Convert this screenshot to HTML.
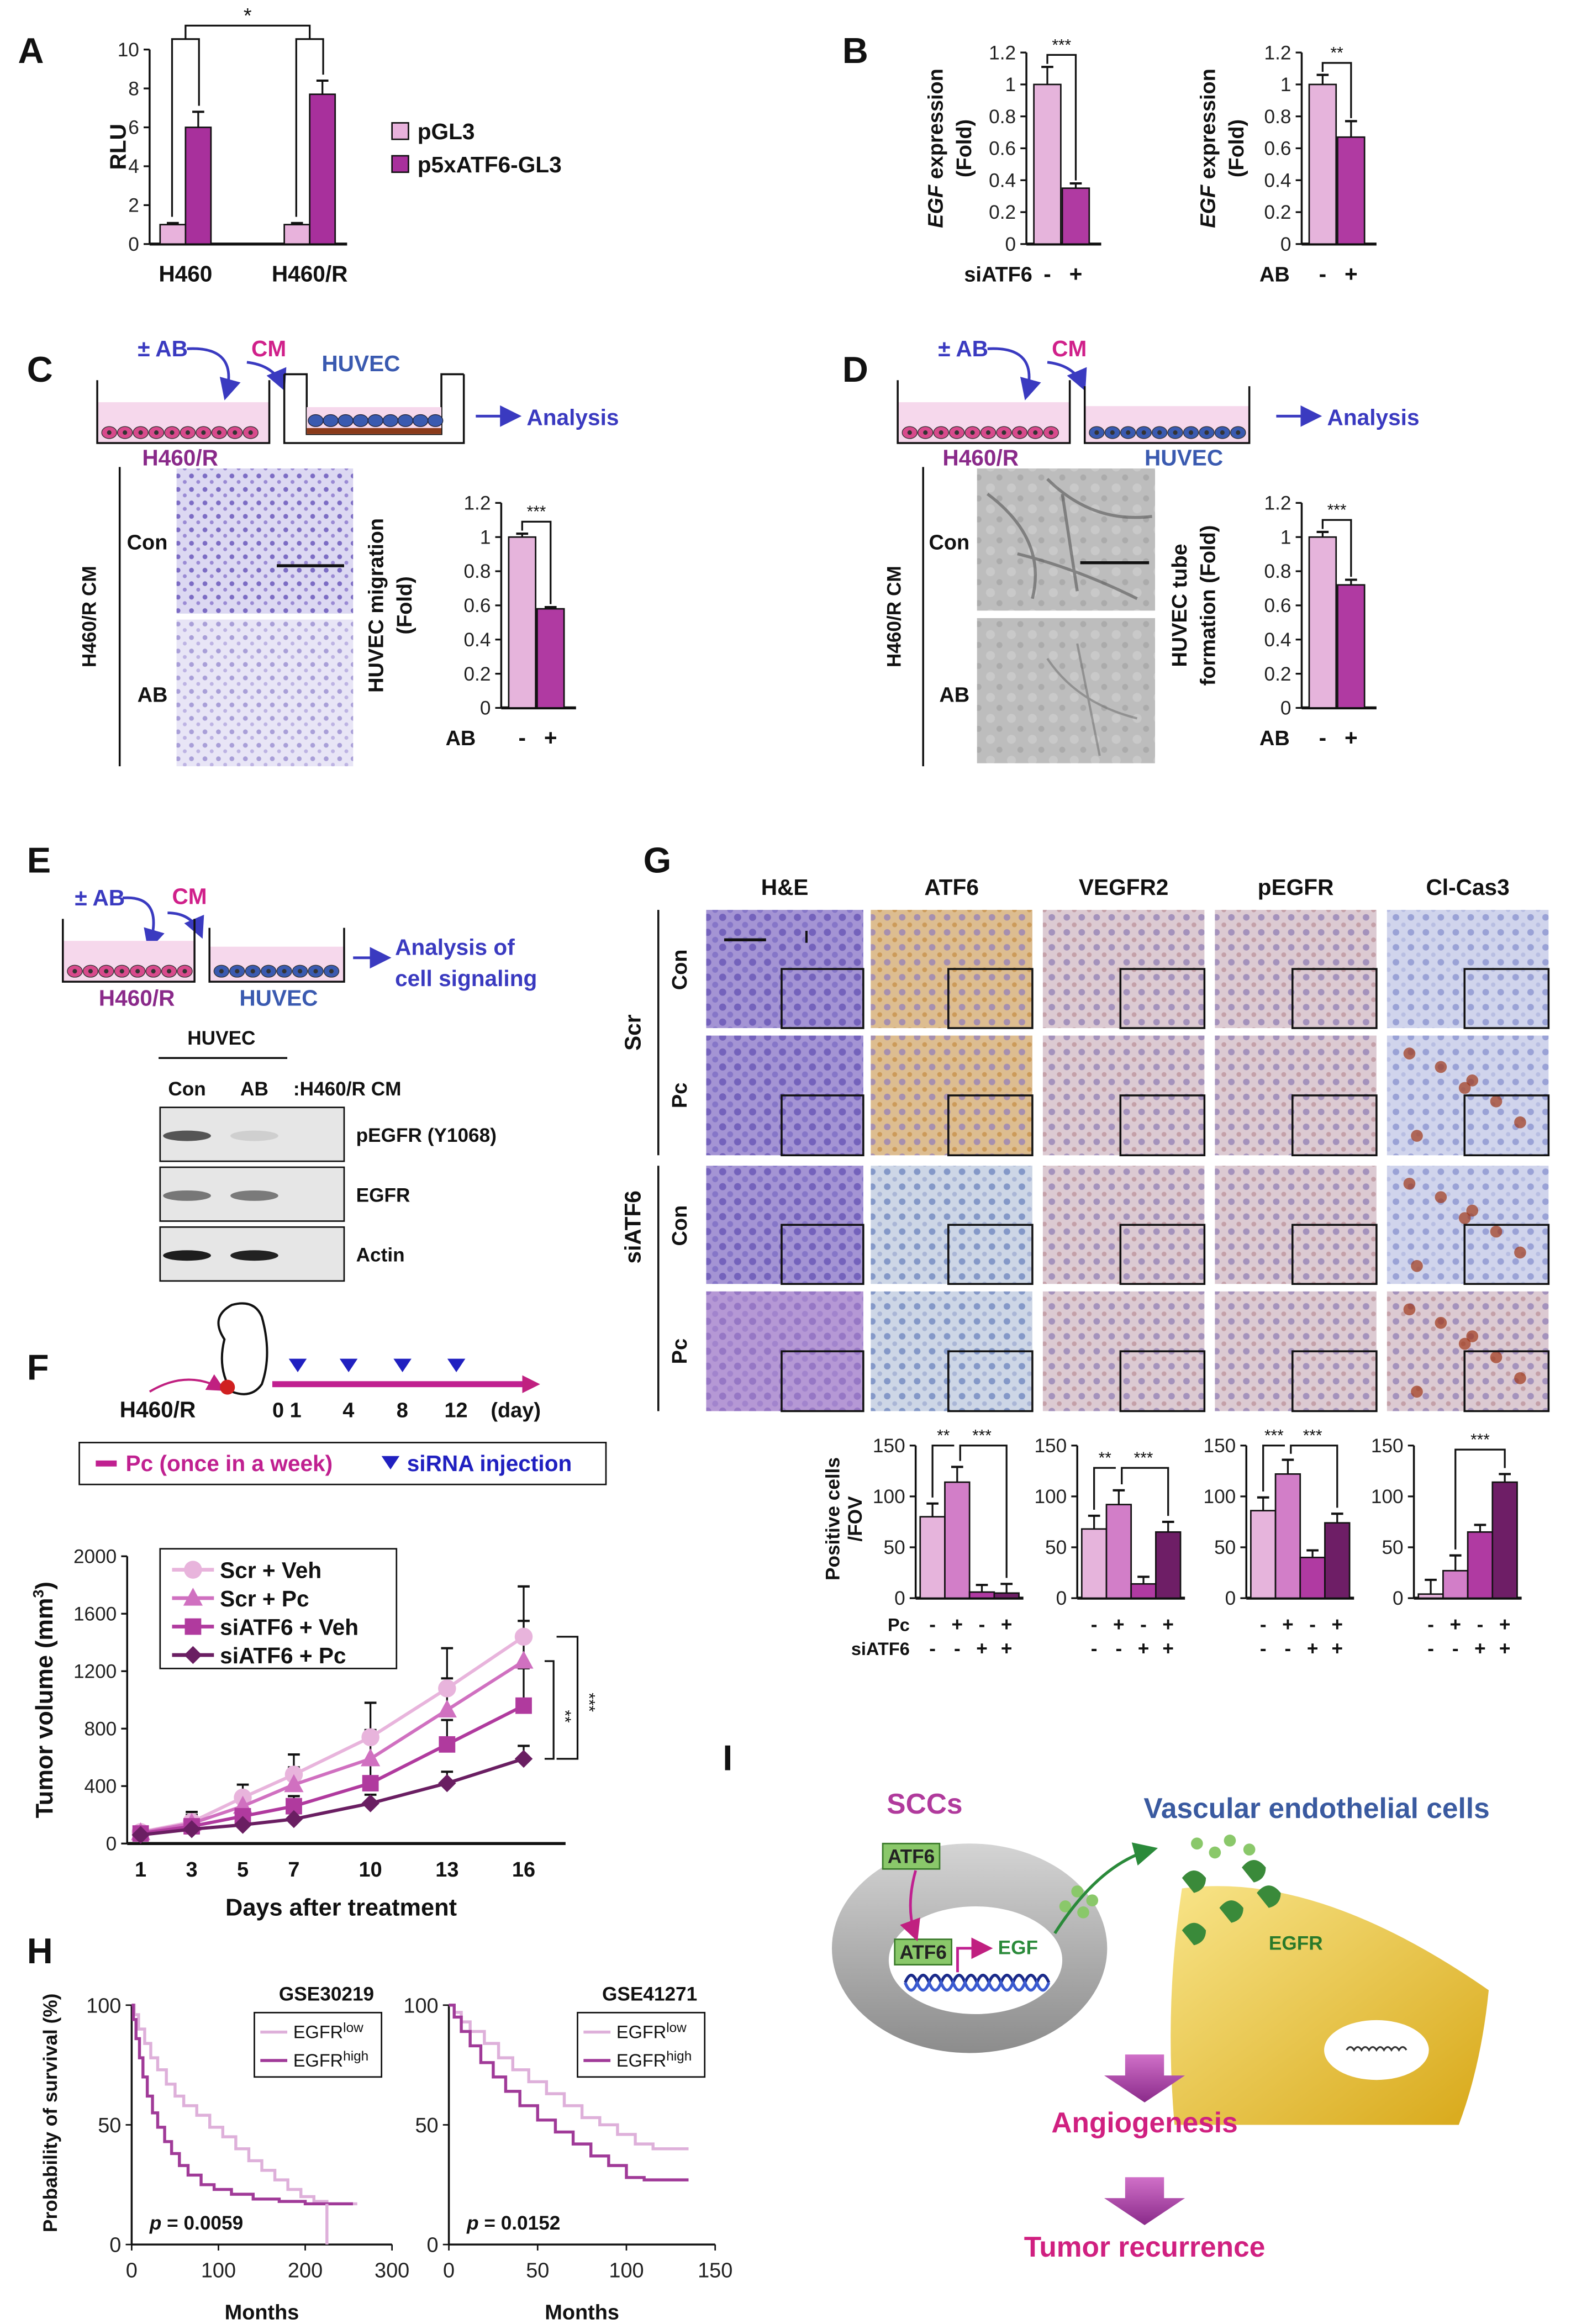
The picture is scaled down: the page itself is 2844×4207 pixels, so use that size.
<!DOCTYPE html>
<html><head><meta charset="utf-8"><style>
html,body{margin:0;padding:0;background:#fff}
svg{display:block}
text{font-family:"Liberation Sans",Arial,sans-serif}
.b{font-weight:bold}
</style></head><body>
<svg id="fig" xmlns="http://www.w3.org/2000/svg" width="2844" height="4207" viewBox="0 0 1050 1553">
<defs>
<pattern id="pC" width="9" height="9" patternUnits="userSpaceOnUse"><rect width="9" height="9" fill="#dcd8f2"/><circle cx="2" cy="3" r="1.6" fill="#7c6cc4"/><circle cx="6.5" cy="7" r="1.3" fill="#9a8ad4"/></pattern>
<pattern id="pGray" width="14" height="14" patternUnits="userSpaceOnUse"><rect width="14" height="14" fill="#bdbdbd"/><circle cx="4" cy="4" r="3" fill="#c9c9c9"/><circle cx="10" cy="11" r="2" fill="#ababab"/></pattern>
<pattern id="pHE" width="10" height="10" patternUnits="userSpaceOnUse"><rect width="10" height="10" fill="#a494d4"/><circle cx="3" cy="3" r="2.4" fill="#7462bc"/><circle cx="8" cy="8" r="2" fill="#8676c8"/></pattern>
<pattern id="pAT1" width="10" height="10" patternUnits="userSpaceOnUse"><rect width="10" height="10" fill="#dcc29c"/><circle cx="3" cy="3" r="2.2" fill="#9c8cc0"/><circle cx="8" cy="8" r="1.6" fill="#c89a5c"/></pattern>
<pattern id="pAT2" width="10" height="10" patternUnits="userSpaceOnUse"><rect width="10" height="10" fill="#cdd6e6"/><circle cx="3" cy="3" r="2.2" fill="#8498c8"/><circle cx="8" cy="8" r="1.6" fill="#aab6d6"/></pattern>
<pattern id="pIHC" width="10" height="10" patternUnits="userSpaceOnUse"><rect width="10" height="10" fill="#dccad2"/><circle cx="3" cy="3" r="2.2" fill="#a492bc"/><circle cx="8" cy="8" r="1.6" fill="#c4a0a8"/></pattern>
<pattern id="pCas" width="10" height="10" patternUnits="userSpaceOnUse"><rect width="10" height="10" fill="#d0d4ec"/><circle cx="3" cy="3" r="2.2" fill="#9aa2d6"/><circle cx="8" cy="8" r="1.5" fill="#b8bee2"/></pattern>
<linearGradient id="gRing" x1="0" y1="0" x2="0" y2="1"><stop offset="0" stop-color="#d4d4d4"/><stop offset="1" stop-color="#8c8c8c"/></linearGradient>
<linearGradient id="gYel" x1="0" y1="0" x2="1" y2="1"><stop offset="0" stop-color="#f8e488"/><stop offset="1" stop-color="#d8a818"/></linearGradient>
<linearGradient id="gArr" x1="0" y1="0" x2="0" y2="1"><stop offset="0" stop-color="#d070c8"/><stop offset="1" stop-color="#8a2a8a"/></linearGradient>
<marker id="mB" markerWidth="8" markerHeight="8" refX="6" refY="4" orient="auto"><path d="M0,0 L8,4 L0,8z" fill="#3a3ac0"/></marker>
<marker id="mG" markerWidth="8" markerHeight="8" refX="6" refY="4" orient="auto"><path d="M0,0 L8,4 L0,8z" fill="#2a8a3a"/></marker>
<marker id="mM" markerWidth="8" markerHeight="8" refX="6" refY="4" orient="auto"><path d="M0,0 L8,4 L0,8z" fill="#c02080"/></marker>
</defs>
</svg>
<script>
// ---------- DATA ----------
const aCategories=['H460','H460/R'];
const aPGL3=[1.0,1.0];
const aP5x=[6.0,7.7];
const aPGL3Err=[0.08,0.08];
const aP5xErr=[0.8,0.7];
const aTicks=[0,2,4,6,8,10];
const foldTicks=[0,0.2,0.4,0.6,0.8,1,1.2];
const bSiValues=[1.0,0.35];
const bSiErr=[0.11,0.03];
const bAbValues=[1.0,0.67];
const bAbErr=[0.06,0.1];
const cValues=[1.0,0.58];
const cErr=[0.02,0.01];
const dValues=[1.0,0.72];
const dErr=[0.03,0.03];
const fDays=[1,3,5,7,10,13,16];
const fTicks=[0,400,800,1200,1600,2000];
const fScrVeh=[80,150,320,480,740,1080,1440];
const fScrPc=[75,140,260,410,590,930,1270];
const fSiVeh=[70,120,190,260,420,690,960];
const fSiPc=[60,100,130,170,280,420,590];
const fScrVehErr=[20,70,90,140,240,280,350];
const fScrPcErr=[15,60,70,120,200,220,280];
const fSiVehErr=[12,40,50,70,150,170,260];
const fSiPcErr=[10,20,30,40,60,80,90];
const gTicks=[0,50,100,150];
const gAtf6=[80,114,6,5];
const gAtf6Err=[13,15,7,9];
const gVegfr2=[68,92,14,65];
const gVegfr2Err=[13,14,7,10];
const gPegfr=[86,122,40,74];
const gPegfrErr=[13,14,7,9];
const gCas3=[4,27,65,114];
const gCas3Err=[14,15,7,8];
const km1LowT=[3,8,15,22,30,40,50,60,75,90,105,120,135,150,165,180,195,210,225,260];
const km1LowS=[96,90,84,78,73,67,62,58,54,49,45,40,35,31,27,23,20,18,17,17];
const km1HighT=[2,5,9,13,18,24,30,38,46,55,65,80,95,115,140,170,200,255];
const km1HighS=[94,86,78,70,62,55,49,43,38,33,29,25,23,21,19,18,17,17];
const km2LowT=[3,7,12,20,28,36,45,55,65,75,85,95,105,115,135];
const km2LowS=[97,93,89,84,78,73,68,63,58,53,50,46,42,40,40];
const km2HighT=[3,7,12,18,25,32,40,50,60,70,80,90,100,110,135];
const km2HighS=[95,89,83,76,70,64,58,52,47,42,37,33,28,27,27];

// ---------- HELPERS ----------
const NS='http://www.w3.org/2000/svg';
const svg=document.getElementById('fig');
function mk(tag,attrs,parent){const e=document.createElementNS(NS,tag);for(const k in attrs)e.setAttribute(k,attrs[k]);(parent||svg).appendChild(e);return e;}
function txt(x,y,s,attrs,parent){const e=mk('text',Object.assign({x:x,y:y},attrs||{}),parent);e.textContent=s;return e;}
function grp(name){const g=mk('g',{});return g;}
const BLK='#111';
function panelLetter(ch,x,y){const t=txt(x,y,ch,{'font-size':24,'font-weight':'bold',fill:BLK});

}

function yAxis(g,ax,y0,yTop,max,ticks,fmt,x1){
  const sc=v=>y0-(v/max)*(y0-yTop);
  mk('line',{x1:ax,y1:y0,x2:ax,y2:yTop,stroke:BLK,'stroke-width':1.3},g);
  mk('line',{x1:ax,y1:y0,x2:x1,y2:y0,stroke:BLK,'stroke-width':2},g);
  ticks.forEach(t=>{const y=sc(t);
    mk('line',{x1:ax-4,y1:y,x2:ax,y2:y,stroke:BLK,'stroke-width':1.2},g);
    const l=txt(ax-7,y+4.5,fmt(t),{'font-size':13,'text-anchor':'end',fill:'#222'},g);
    
    
  });
  return sc;
}
function bar(g,sc,x,w,v,err,color,name){
  const y=sc(v),y0=sc(0);
  const r=mk('rect',{x:x,y:y,width:w,height:y0-y,fill:color,stroke:BLK,'stroke-width':1},g);
  
  
  const ye=sc(v+err);
  mk('line',{x1:x+w/2,y1:y,x2:x+w/2,y2:ye,stroke:BLK,'stroke-width':1.2},g);
  mk('line',{x1:x+w/2-4,y1:ye,x2:x+w/2+4,y2:ye,stroke:BLK,'stroke-width':1.5},g);
  return {cx:x+w/2,top:ye};
}
function bracket(g,xa,xb,ya,yb,yt,label){
  mk('path',{d:`M${xa},${ya} V${yt} H${xb} V${yb}`,fill:'none',stroke:BLK,'stroke-width':1.2},g);
  const t=txt((xa+xb)/2,yt-3,label,{'font-size':11,'text-anchor':'middle',fill:BLK},g);
  
  
}
function rotText(x,y,s,size,g,extra){const t=txt(0,0,s,Object.assign({'font-size':size,'font-weight':'bold','text-anchor':'middle',fill:BLK,transform:`translate(${x},${y}) rotate(-90)`},extra||{}),g);return t;}

const P1='#e8b2dc',P2='#a8309c';
const G1='#e6b4dc',G2='#d27ec8',G3='#b03aa2',G4='#6e1e66';

// ---------- PANEL A ----------
(function(){
 panelLetter('A',12,42);
 const g=grp('panel-a-chart');
 const sc=yAxis(g,100,163,33,10,aTicks,String,232);
 const ylab=rotText(84,98,'RLU',15,g);
 
 const gx=[107,190];
 const tops=[];
 aCategories.forEach((c,i)=>{
   bar(g,sc,gx[i],17,aPGL3[i],aPGL3Err[i],P1,'bar-pgl3-'+i);
   const b=bar(g,sc,gx[i]+17,17,aP5x[i],aP5xErr[i],P2,'bar-p5xatf6-'+i);
   tops.push(b);
   const l=txt(gx[i]+17,188,c,{'font-size':15,'font-weight':'bold','text-anchor':'middle',fill:BLK},g);
   
   
 });
 mk('path',{d:`M${gx[0]+8},${sc(1.4)} V26 H${gx[0]+26} V${tops[0].top-4}`,fill:'none',stroke:BLK,'stroke-width':1.2},g);
 mk('path',{d:`M${gx[1]+8},${sc(1.4)} V26 H${gx[1]+26} V${tops[1].top-4}`,fill:'none',stroke:BLK,'stroke-width':1.2},g);
 mk('path',{d:`M${gx[0]+17},26 V17 H${gx[1]+17} V26`,fill:'none',stroke:BLK,'stroke-width':1.2},g);
 txt((gx[0]+gx[1])/2+17,15,'*',{'font-size':14,'text-anchor':'middle',fill:BLK},g);
 const lg=grp('legend');
 const s1=mk('rect',{x:262,y:82,width:11,height:11,fill:P1,stroke:BLK,'stroke-width':1},lg);
 
 
 txt(279,93,'pGL3',{'font-size':15,'font-weight':'bold',fill:BLK},lg);
 const s2=mk('rect',{x:262,y:104,width:11,height:11,fill:P2,stroke:BLK,'stroke-width':1},lg);
 
 
 txt(279,115,'p5xATF6-GL3',{'font-size':15,'font-weight':'bold',fill:BLK},lg);
})();

function foldChart(name,ax,y0,yTop,vals,errs,labTxt,titleLines,titleX,xlabX,stars){
 const g=grp(name);
 const sc=yAxis(g,ax,y0,yTop,1.2,foldTicks,v=>String(Math.round(v*10)/10),ax+50);
 const b0=bar(g,sc,ax+5,18,vals[0],errs[0],G1,'bar-control');
 const b1=bar(g,sc,ax+24,18,vals[1],errs[1],G3,'bar-treated');
 const yt=Math.min(b0.top,b1.top)-8;
 bracket(g,b0.cx,b1.cx,b0.top-2,b1.top-2,yt,stars);
 const fs=14;
 const xl=txt(xlabX,y0+25,labTxt,{'font-size':14,'font-weight':'bold','text-anchor':'end',fill:BLK},g);
 
 
 txt(b0.cx,y0+25,'-',{'font-size':15,'font-weight':'bold','text-anchor':'middle',fill:BLK},g);
 txt(b1.cx,y0+25,'+',{'font-size':15,'font-weight':'bold','text-anchor':'middle',fill:BLK},g);
 const yc=(y0+yTop)/2;
 titleLines.forEach((ln,i)=>{
   const t=rotText(titleX+i*19,yc,'',fs,g);
   if(Array.isArray(ln)){const a=document.createElementNS(NS,'tspan');a.setAttribute('font-style','italic');a.textContent=ln[0];t.appendChild(a);const b=document.createElementNS(NS,'tspan');b.textContent=ln[1];t.appendChild(b);}
   else t.textContent=ln;
   
   
 });
 return g;
}
panelLetter('B',563,42);
foldChart('panel-b-siatf6-chart',686,163,35,bSiValues,bSiErr,'siATF6',[['EGF',' expression'],'(Fold)'],630,690,'***');
foldChart('panel-b-ab-chart',870,163,35,bAbValues,bAbErr,'AB',[['EGF',' expression'],'(Fold)'],812,862,'**');

function dish(g,x,y,w,h,cellColor,fill){
 mk('rect',{x:x,y:y+h*0.35,width:w,height:h*0.65,fill:fill,stroke:'none'},g);
 mk('path',{d:`M${x},${y} V${y+h} H${x+w} V${y}`,fill:'none',stroke:BLK,'stroke-width':1.3},g);
 for(let cx=x+8;cx<x+w-4;cx+=10.5){mk('ellipse',{cx:cx,cy:y+h-7,rx:5,ry:4,fill:cellColor,stroke:'#333','stroke-width':0.5},g);
   mk('circle',{cx:cx,cy:y+h-7,r:1.5,fill:'#333'},g);}
}
function schematic(name,ox,oy,insert,line3){
 const g=grp(name);
 txt(ox+27,oy+2,'± AB',{'font-size':15,'font-weight':'bold',fill:'#3a3ac0'},g);
 mk('path',{d:`M${ox+60},${oy-3} Q${ox+95},${oy-5} ${ox+86},${oy+28}`,fill:'none',stroke:'#3a3ac0','stroke-width':1.8,'marker-end':'url(#mB)'},g);
 txt(ox+103,oy+2,'CM',{'font-size':15,'font-weight':'bold',fill:'#d0208a'},g);
 mk('path',{d:`M${ox+100},${oy+6} Q${ox+118},${oy+8} ${ox+124},${oy+22}`,fill:'none',stroke:'#3a3ac0','stroke-width':1.8,'marker-end':'url(#mB)'},g);
 dish(g,ox,oy+18,115,42,'#d84a8c','#f6d8ec');
 txt(ox+30,oy+75,'H460/R',{'font-size':15,'font-weight':'bold',fill:'#8a2a8a'},g);
 if(insert){
   mk('path',{d:`M${ox+125},${oy+14} H${ox+140} V${oy+54} H${ox+230} V${oy+14} H${ox+245}`,fill:'none',stroke:BLK,'stroke-width':1.3},g);
   mk('rect',{x:ox+140,y:oy+36,width:90,height:18,fill:'#f6d8ec'},g);
   mk('rect',{x:ox+140,y:oy+50,width:90,height:4,fill:'#8a3a1a'},g);
   for(let cx=ox+146;cx<ox+228;cx+=10){mk('ellipse',{cx:cx,cy:oy+45,rx:5,ry:4,fill:'#3a5ab0',stroke:'#223','stroke-width':0.5},g);}
   mk('path',{d:`M${ox+125},${oy+14} V${oy+60} H${ox+245} V${oy+14}`,fill:'none',stroke:BLK,'stroke-width':1.3},g);
   txt(ox+150,oy+12,'HUVEC',{'font-size':15,'font-weight':'bold',fill:'#3a5ab0'},g);
 } else {
   dish(g,ox+125,oy+22,110,38,'#3a5ab0','#f6d8ec');
   txt(ox+165,oy+75,'HUVEC',{'font-size':15,'font-weight':'bold',fill:'#3a5ab0'},g);
 }
 mk('line',{x1:ox+253,y1:oy+42,x2:ox+280,y2:oy+42,stroke:'#3a3ac0','stroke-width':1.8,'marker-end':'url(#mB)'},g);
 txt(ox+287,oy+48,'Analysis',{'font-size':15,'font-weight':'bold',fill:'#3a3ac0'},g);
 if(line3)txt(ox+287,oy+69,line3,{'font-size':15,'font-weight':'bold',fill:'#3a3ac0'},g);
 return g;
}
panelLetter('C',18,255);
schematic('panel-c-schematic',65,236,true);
panelLetter('D',563,255);
schematic('panel-d-schematic',600,236,false);

function micro(g,x,y,w,h,fill,name){const r=mk('rect',{x:x,y:y,width:w,height:h,fill:fill},g);return r;}
(function(){
 const g=grp('panel-c-images');
 mk('line',{x1:80,y1:312,x2:80,y2:512,stroke:BLK,'stroke-width':1.3},g);
 rotText(64,412,'H460/R CM',13,g);
 txt(112,367,'Con',{'font-size':14,'font-weight':'bold',fill:BLK,'text-anchor':'end'},g);
 txt(112,469,'AB',{'font-size':14,'font-weight':'bold',fill:BLK,'text-anchor':'end'},g);
 micro(g,118,313,118,97,'url(#pC)','migration-image-con');
 micro(g,118,414,118,98,'url(#pC)','migration-image-ab');
 mk('rect',{x:118,y:414,width:118,height:98,fill:'#fff',opacity:0.35},g);
 mk('line',{x1:185,y1:378,x2:230,y2:378,stroke:BLK,'stroke-width':2},g);
 const gd=grp('panel-d-images');
 mk('line',{x1:617,y1:312,x2:617,y2:512,stroke:BLK,'stroke-width':1.3},gd);
 rotText(602,412,'H460/R CM',13,gd);
 txt(648,367,'Con',{'font-size':14,'font-weight':'bold',fill:BLK,'text-anchor':'end'},gd);
 txt(648,469,'AB',{'font-size':14,'font-weight':'bold',fill:BLK,'text-anchor':'end'},gd);
 micro(gd,653,313,119,95,'url(#pGray)','tube-image-con');
 micro(gd,653,413,119,97,'url(#pGray)','tube-image-ab');
 mk('path',{d:'M660,330 Q700,360 690,400 M700,320 Q730,350 770,345 M680,370 Q720,380 760,400 M710,330 L720,395',fill:'none',stroke:'#555','stroke-width':2,opacity:0.6},gd);
 mk('path',{d:'M700,440 Q720,470 760,480 M720,430 L735,505',fill:'none',stroke:'#666','stroke-width':1.5,opacity:0.5},gd);
 mk('line',{x1:722,y1:376,x2:768,y2:376,stroke:BLK,'stroke-width':2},gd);
})();
foldChart('panel-c-chart',335,473,336,cValues,cErr,'AB',['HUVEC migration','(Fold)'],256,318,'***');
foldChart('panel-d-chart',870,473,336,dValues,dErr,'AB',['HUVEC tube','formation (Fold)'],793,862,'***');

// ---------- PANEL E ----------
(function(){
 panelLetter('E',18,583);
 const g=grp('panel-e');
 txt(50,605,'± AB',{'font-size':15,'font-weight':'bold',fill:'#3a3ac0'},g);
 mk('path',{d:'M82,600 Q110,598 100,632',fill:'none',stroke:'#3a3ac0','stroke-width':1.8,'marker-end':'url(#mB)'},g);
 txt(115,604,'CM',{'font-size':15,'font-weight':'bold',fill:'#d0208a'},g);
 mk('path',{d:'M112,610 Q128,610 134,624',fill:'none',stroke:'#3a3ac0','stroke-width':1.8,'marker-end':'url(#mB)'},g);
 dish(g,42,614,88,42,'#d84a8c','#f6d8ec');
 dish(g,140,620,90,36,'#3a5ab0','#f6d8ec');
 txt(66,672,'H460/R',{'font-size':15,'font-weight':'bold',fill:'#8a2a8a'},g);
 txt(160,672,'HUVEC',{'font-size':15,'font-weight':'bold',fill:'#3a5ab0'},g);
 mk('line',{x1:236,y1:640,x2:258,y2:640,stroke:'#3a3ac0','stroke-width':1.8,'marker-end':'url(#mB)'},g);
 txt(264,638,'Analysis of',{'font-size':15,'font-weight':'bold',fill:'#3a3ac0'},g);
 txt(264,659,'cell signaling',{'font-size':15,'font-weight':'bold',fill:'#3a3ac0'},g);
 const wb=grp('western-blot');
 txt(148,698,'HUVEC',{'font-size':13,'font-weight':'bold',fill:BLK,'text-anchor':'middle'},wb);
 mk('line',{x1:106,y1:707,x2:192,y2:707,stroke:BLK,'stroke-width':1.3},wb);
 txt(125,732,'Con',{'font-size':13,'font-weight':'bold',fill:BLK,'text-anchor':'middle'},wb);
 txt(170,732,'AB',{'font-size':13,'font-weight':'bold',fill:BLK,'text-anchor':'middle'},wb);
 txt(196,732,':H460/R CM',{'font-size':13,'font-weight':'bold',fill:BLK},wb);
 const rows=[[740,'pEGFR (Y1068)',['#555','#cfcfcf']],[780,'EGFR',['#777','#7a7a7a']],[820,'Actin',['#1e1e1e','#222']]];
 rows.forEach(r=>{
  const b=mk('rect',{x:107,y:r[0],width:123,height:36,fill:'#e6e6e6',stroke:BLK,'stroke-width':1},wb);
  
  
  mk('ellipse',{cx:125,cy:r[0]+19,rx:16,ry:3.5,fill:r[2][0]},wb);
  mk('ellipse',{cx:170,cy:r[0]+19,rx:16,ry:3.5,fill:r[2][1]},wb);
  txt(238,r[0]+23,r[1],{'font-size':13,'font-weight':'bold',fill:BLK},wb);
 });
})();

// ---------- PANEL F ----------
(function(){
 panelLetter('F',18,922);
 const g=grp('panel-f-schematic');
 txt(80,947,'H460/R',{'font-size':15,'font-weight':'bold',fill:BLK},g);
 mk('path',{d:'M100,930 Q125,915 148,928',fill:'none',stroke:'#c02080','stroke-width':1.5,'marker-end':'url(#mM)'},g);
 mk('path',{d:'M150,895 Q140,880 155,872 Q170,868 175,880 Q182,905 175,925 Q168,935 155,930 Q145,915 150,895z',fill:'#fff',stroke:BLK,'stroke-width':1.5},g);
 mk('circle',{cx:152,cy:927,r:5,fill:'#d02020'},g);
 mk('line',{x1:182,y1:925,x2:352,y2:925,stroke:'#c02090','stroke-width':4},g);
 mk('path',{d:'M352,925 H358',stroke:BLK,'stroke-width':1.5,'marker-end':'url(#mM)'},g);
 [199,233,269,305].forEach(x=>{mk('path',{d:`M${x-6},908 H${x+6} L${x},917z`,fill:'#2020c0'},g);});
 txt(182,947,'0 1',{'font-size':14,'font-weight':'bold',fill:BLK},g);
 txt(229,947,'4',{'font-size':14,'font-weight':'bold',fill:BLK},g);
 txt(265,947,'8',{'font-size':14,'font-weight':'bold',fill:BLK},g);
 txt(297,947,'12',{'font-size':14,'font-weight':'bold',fill:BLK},g);
 txt(328,947,'(day)',{'font-size':14,'font-weight':'bold',fill:BLK},g);
 mk('rect',{x:53,y:964,width:352,height:28,fill:'#fff',stroke:BLK,'stroke-width':1},g);
 mk('rect',{x:64,y:976,width:14,height:4,fill:'#c02090'},g);
 txt(84,983,'Pc (once in a week)',{'font-size':15,'font-weight':'bold',fill:'#c02090'},g);
 mk('path',{d:'M255,973 H267 L261,982z',fill:'#2020c0'},g);
 txt(272,983,'siRNA injection',{'font-size':15,'font-weight':'bold',fill:'#2020c0'},g);
})();
(function(){
 const g=grp('panel-f-line-chart');
 const y0=1232,yT=1040,max=2000,ax=85;
 const ys=v=>y0-(v/max)*(y0-yT);
 const xs=d=>94+(d-1)*(350-94)/15;
 yAxis(g,ax,y0,yT,max,fTicks,String,378);
 fDays.forEach(d=>{const l=txt(xs(d),1254,String(d),{'font-size':14,'font-weight':'bold','text-anchor':'middle',fill:BLK},g);
   
   });
 const xt=txt(228,1280,'Days after treatment',{'font-size':16,'font-weight':'bold','text-anchor':'middle',fill:BLK},g);
 
 
 const yt=rotText(35,1136,'',16,g);
 yt.innerHTML='Tumor volume (mm<tspan dy="-6" font-size="10">3</tspan><tspan dy="6">)</tspan>';
 
 
 const series=[[fScrVeh,fScrVehErr,'#e8b4dc','circle','scr-veh'],[fScrPc,fScrPcErr,'#d070c0','tri','scr-pc'],[fSiVeh,fSiVehErr,'#b03a9e','square','siatf6-veh'],[fSiPc,fSiPcErr,'#6a1e62','diamond','siatf6-pc']];
 series.forEach(s=>{
   s[0].forEach((v,i)=>{const x=xs(fDays[i]),y=ys(v),ye=ys(v+s[1][i]);
     mk('line',{x1:x,y1:y,x2:x,y2:ye,stroke:BLK,'stroke-width':1.2},g);
     mk('line',{x1:x-4,y1:ye,x2:x+4,y2:ye,stroke:BLK,'stroke-width':1.5},g);});
 });
 series.forEach(s=>{
   const pts=s[0].map((v,i)=>xs(fDays[i])+','+ys(v)).join(' ');
   const pl=mk('polyline',{points:pts,fill:'none',stroke:s[2],'stroke-width':2.2},g);
   
   
   s[0].forEach((v,i)=>{marker(g,s[3],xs(fDays[i]),ys(v),s[2],'point-'+s[4]);});
 });
 function marker(g,t,x,y,c,name){let m;
   if(t==='circle')m=mk('circle',{cx:x,cy:y,r:6,fill:c},g);
   else if(t==='tri')m=mk('path',{d:`M${x},${y-7} L${x+6.5},${y+5} L${x-6.5},${y+5}z`,fill:c},g);
   else if(t==='square')m=mk('rect',{x:x-5.5,y:y-5.5,width:11,height:11,fill:c},g);
   else m=mk('path',{d:`M${x},${y-6} L${x+6},${y} L${x},${y+6} L${x-6},${y}z`,fill:c},g);
   
   
   return m;}
 mk('path',{d:`M364,${ys(1270)} H370 V${ys(590)} H364`,fill:'none',stroke:BLK,'stroke-width':1.2},g);
 mk('path',{d:`M372,${ys(1440)} H386 V${ys(590)} H372`,fill:'none',stroke:BLK,'stroke-width':1.2},g);
 txt(0,0,'**',{'font-size':11,fill:BLK,transform:`translate(374,${ys(930)}) rotate(90)`},g);
 txt(0,0,'***',{'font-size':11,fill:BLK,transform:`translate(390,${ys(1050)}) rotate(90)`},g);
 const lg=grp('legend-f');
 mk('rect',{x:107,y:1035,width:158,height:80,fill:'#fff',stroke:BLK,'stroke-width':1},lg);
 const names=['Scr + Veh','Scr + Pc','siATF6 + Veh','siATF6 + Pc'];
 series.forEach((s,i)=>{const y=1049+i*19;
   mk('line',{x1:115,y1:y,x2:143,y2:y,stroke:s[2],'stroke-width':2.5},lg);
   marker(lg,s[3],129,y,s[2],'legend-marker');
   const t=txt(147,y+5.5,names[i],{'font-size':15,'font-weight':'bold',fill:BLK},lg);
   
   });
})();

// ---------- PANEL G ----------
(function(){
 panelLetter('G',430,583);
 const g=grp('panel-g-ihc-grid');
 const cols=[[472,105,'H&E'],[582,108,'ATF6'],[697,108,'VEGFR2'],[812,108,'pEGFR'],[927,108,'Cl-Cas3']];
 const rows=[[608,79],[692,80],[779,79],[863,80]];
 cols.forEach(c=>{const t=txt(c[0]+c[1]/2,598,c[2],{'font-size':15,'font-weight':'bold','text-anchor':'middle',fill:BLK},g);
   
   });
 const fills=[['url(#pHE)','url(#pAT1)','url(#pIHC)','url(#pIHC)','url(#pCas)'],
   ['url(#pHE)','url(#pAT1)','url(#pIHC)','url(#pIHC)','url(#pCas)'],
   ['url(#pHE)','url(#pAT2)','url(#pIHC)','url(#pIHC)','url(#pCas)'],
   ['url(#pHE)','url(#pAT2)','url(#pIHC)','url(#pIHC)','url(#pIHC)']];
 rows.forEach((r,ri)=>cols.forEach((c,ci)=>{
   micro(g,c[0],r[0],c[1],r[1],fills[ri][ci],'ihc-image');
   if(ri===3&&ci===0)mk('rect',{x:c[0],y:r[0],width:c[1],height:r[1],fill:'#d6a0d8',opacity:0.35},g);
   if(ri<2&&ci===1)mk('rect',{x:c[0],y:r[0],width:c[1],height:r[1],fill:'#e4a050',opacity:0.15},g);
   if(ci===4&&ri>0){for(let k=0;k<7;k++)mk('circle',{cx:c[0]+15+((k*37)%90),cy:r[0]+12+((k*23)%60),r:4,fill:'#a03818',opacity:0.7},g);}
   mk('rect',{x:c[0]+c[1]*0.48,y:r[0]+r[1]*0.5,width:c[1]*0.52,height:r[1]*0.5,fill:'none',stroke:BLK,'stroke-width':1.3},g);
 }));
 mk('line',{x1:484,y1:628,x2:512,y2:628,stroke:BLK,'stroke-width':2},g);
 mk('line',{x1:539,y1:622,x2:539,y2:630,stroke:BLK,'stroke-width':1.5},g);
 mk('line',{x1:440,y1:608,x2:440,y2:772,stroke:BLK,'stroke-width':1.3},g);
 mk('line',{x1:440,y1:779,x2:440,y2:943,stroke:BLK,'stroke-width':1.3},g);
 rotText(428,690,'Scr',15,g);
 rotText(428,820,'siATF6',15,g);
 rotText(459,648,'Con',14,g);
 rotText(459,732,'Pc',14,g);
 rotText(459,819,'Con',14,g);
 rotText(459,903,'Pc',14,g);
})();
(function(){
 const sets=[[gAtf6,gAtf6Err,612],[gVegfr2,gVegfr2Err,720],[gPegfr,gPegfrErr,833],[gCas3,gCas3Err,945]];
 const cols=[G1,G2,G3,G4];
 const pcRow=['-','+','-','+'], siRow=['-','-','+','+'];
 sets.forEach((s,si)=>{
   const g=grp('panel-g-chart-'+(si+1));
   const sc=yAxis(g,s[2],1068,966,150,gTicks,String,s[2]+72);
   const bs=s[0].map((v,i)=>bar(g,sc,s[2]+3+i*16.5,16.5,v,s[1][i],cols[i],'bar-group-'+(i+1)));
   bs.forEach((b,i)=>{txt(b.cx,1090,pcRow[i],{'font-size':13,'font-weight':'bold','text-anchor':'middle',fill:BLK},g);
     txt(b.cx,1106,siRow[i],{'font-size':13,'font-weight':'bold','text-anchor':'middle',fill:BLK},g);});
   if(si<3){
     const yt=si===1?sc(128):sc(150);
     bracket(g,bs[0].cx,bs[1].cx-2,bs[0].top-4,yt,yt,si===2?'***':'**');
     mk('path',{d:`M${bs[1].cx+2},${bs[1].top-4} V${yt} H${bs[3].cx} V${bs[3].top-4}`,fill:'none',stroke:BLK,'stroke-width':1.2},g);
     txt((bs[1].cx+bs[3].cx)/2,yt-3,'***',{'font-size':11,'text-anchor':'middle',fill:BLK},g);}
   else bracket(g,bs[1].cx,bs[3].cx,bs[1].top-4,bs[3].top-4,sc(146),'***');
 });
 const t=rotText(561,1015,'Positive cells',13,svg);
 
 
 rotText(576,1015,'/FOV',13,svg);
 txt(608,1090,'Pc',{'font-size':12,'font-weight':'bold','text-anchor':'end',fill:BLK});
 txt(608,1106,'siATF6',{'font-size':12,'font-weight':'bold','text-anchor':'end',fill:BLK});
})();

// ---------- PANEL H ----------
function km(name,ax,xmax,xticks,x1,lowT,lowS,highT,highS,title,pval){
 const g=grp(name);
 const y0=1500,yT=1340;
 const ys=v=>y0-(v/100)*(y0-yT);
 const xs=t=>ax+(t/xmax)*(x1-ax);
 mk('line',{x1:ax,y1:y0,x2:ax,y2:yT,stroke:BLK,'stroke-width':1.3},g);
 mk('line',{x1:ax,y1:y0,x2:x1,y2:y0,stroke:BLK,'stroke-width':1.3},g);
 [0,50,100].forEach(v=>{mk('line',{x1:ax-4,y1:ys(v),x2:ax,y2:ys(v),stroke:BLK},g);
   txt(ax-7,ys(v)+5,String(v),{'font-size':14,'text-anchor':'end',fill:'#222'},g);});
 xticks.forEach(v=>{mk('line',{x1:xs(v),y1:y0,x2:xs(v),y2:y0+4,stroke:BLK},g);
   const l=txt(xs(v),y0+22,String(v),{'font-size':14,'text-anchor':'middle',fill:'#222'},g);
   
   });
 function step(T,S,c,n){let d=`M${xs(0)},${ys(100)}`;T.forEach((t,i)=>{d+=` H${xs(t)} V${ys(S[i])}`;});
   const p=mk('path',{d:d,fill:'none',stroke:c,'stroke-width':2},g);
   
   return p;}
 step(lowT,lowS,'#deb0da','survival-curve-egfr-low');
 step(highT,highS,'#a03a98','survival-curve-egfr-high');
 txt(x1-12,1337,title,{'font-size':13,'font-weight':'bold','text-anchor':'end',fill:BLK},g);
 mk('rect',{x:x1-92,y:1345,width:85,height:43,fill:'#fff',stroke:BLK},g);
 mk('line',{x1:x1-88,y1:1358,x2:x1-70,y2:1358,stroke:'#deb0da','stroke-width':2},g);
 mk('line',{x1:x1-88,y1:1377,x2:x1-70,y2:1377,stroke:'#a03a98','stroke-width':2},g);
 const l1=txt(x1-66,1362,'EGFR',{'font-size':12,fill:BLK},g);
 const s1=document.createElementNS(NS,'tspan');s1.setAttribute('font-size','9');s1.setAttribute('dy','-4');s1.textContent='low';l1.appendChild(s1);
 const l2=txt(x1-66,1381,'EGFR',{'font-size':12,fill:BLK},g);
 const s2=document.createElementNS(NS,'tspan');s2.setAttribute('font-size','9');s2.setAttribute('dy','-4');s2.textContent='high';l2.appendChild(s2);
 const p=txt(ax+12,1490,'',{'font-size':13,'font-weight':'bold',fill:BLK},g);
 p.innerHTML='<tspan font-style="italic">p</tspan> = '+pval;
 const m=txt((ax+x1)/2,1550,'Months',{'font-size':14,'font-weight':'bold','text-anchor':'middle',fill:BLK},g);
 
 
}
panelLetter('H',18,1312);
km('panel-h-gse30219',88,300,[0,100,200,300],262,km1LowT,km1LowS,km1HighT,km1HighS,'GSE30219','0.0059');
km('panel-h-gse41271',300,150,[0,50,100,150],478,km2LowT,km2LowS,km2HighT,km2HighS,'GSE41271','0.0152');
mk('line',{x1:88+225/300*174,y1:1340+0.83*160,x2:88+225/300*174,y2:1500,stroke:'#deb0da','stroke-width':2});
(function(){const t=rotText(38,1412,'Probability of survival (%)',13,svg);
 
 })();

// ---------- PANEL I ----------
(function(){
 panelLetter('I',483,1183);
 const g=grp('panel-i-diagram');
 mk('ellipse',{cx:648,cy:1302,rx:92,ry:70,fill:'url(#gRing)'},g);
 mk('ellipse',{cx:652,cy:1310,rx:58,ry:36,fill:'#fff'},g);
 txt(618,1212,'SCCs',{'font-size':19,'font-weight':'bold','text-anchor':'middle',fill:'#b03a9c'},g);
 txt(880,1215,'Vascular endothelial cells',{'font-size':19,'font-weight':'bold','text-anchor':'middle',fill:'#3a5aa0'},g);
 let d='M605,1325';for(let x=605;x<700;x+=8)d+=` Q${x+4},${1315} ${x+8},1325`;
 mk('path',{d:d,fill:'none',stroke:'#1a2a8a','stroke-width':2},g);
 let d2='M605,1325';for(let x=605;x<700;x+=8)d2+=` Q${x+4},${1335} ${x+8},1325`;
 mk('path',{d:d2,fill:'none',stroke:'#3a5ad0','stroke-width':2},g);
 [[590,1232],[598,1296]].forEach(p=>{mk('rect',{x:p[0],y:p[1],width:38,height:17,fill:'#8ac86a',stroke:'#3a7a2a'},g);
   txt(p[0]+19,p[1]+13,'ATF6',{'font-size':13,'font-weight':'bold','text-anchor':'middle',fill:'#222'},g);});
 mk('path',{d:'M612,1250 Q605,1275 612,1294',fill:'none',stroke:'#c02090','stroke-width':1.8,'marker-end':'url(#mM)'},g);
 mk('path',{d:'M640,1318 V1302 H660',fill:'none',stroke:'#c02090','stroke-width':1.8,'marker-end':'url(#mM)'},g);
 txt(667,1306,'EGF',{'font-size':13,'font-weight':'bold',fill:'#2a8a3a'},g);
 [[712,1274],[720,1264],[730,1270],[724,1278]].forEach(p=>mk('circle',{cx:p[0],cy:p[1],r:4,fill:'#8ac86a'},g));
 mk('path',{d:'M705,1292 Q735,1245 770,1236',fill:'none',stroke:'#2a8a3a','stroke-width':2,'marker-end':'url(#mG)'},g);
 mk('path',{d:'M790,1262 Q880,1250 995,1330 Q990,1380 975,1420 L785,1420 Q778,1340 790,1262z',fill:'url(#gYel)'},g);
 [[790,1255],[815,1275],[830,1248],[790,1290],[840,1265]].forEach(p=>{mk('path',{d:`M${p[0]},${p[1]} q8,-10 16,0 q0,8 -8,10 z`,fill:'#3a8a3a'},g);});
 [[800,1232],[812,1238],[822,1230],[835,1236]].forEach(p=>mk('circle',{cx:p[0],cy:p[1],r:4,fill:'#8ac86a'},g));
 txt(848,1303,'EGFR',{'font-size':13,'font-weight':'bold',fill:'#2a7a2a'},g);
 mk('ellipse',{cx:920,cy:1370,rx:35,ry:20,fill:'#fff'},g);
 let d3='M900,1370';for(let x=900;x<940;x+=5)d3+=` q2.5,-4 5,0`;
 mk('path',{d:d3,fill:'none',stroke:'#333','stroke-width':1.2},g);
 [1373,1455].forEach(y=>mk('path',{d:`M752,${y} H778 V${y+14} H792 L765,${y+32} L738,${y+14} H752z`,fill:'url(#gArr)'},g));
 txt(765,1425,'Angiogenesis',{'font-size':19,'font-weight':'bold','text-anchor':'middle',fill:'#d02080'},g);
 txt(765,1508,'Tumor recurrence',{'font-size':19,'font-weight':'bold','text-anchor':'middle',fill:'#d02080'},g);
})();
</script>
</body></html>
